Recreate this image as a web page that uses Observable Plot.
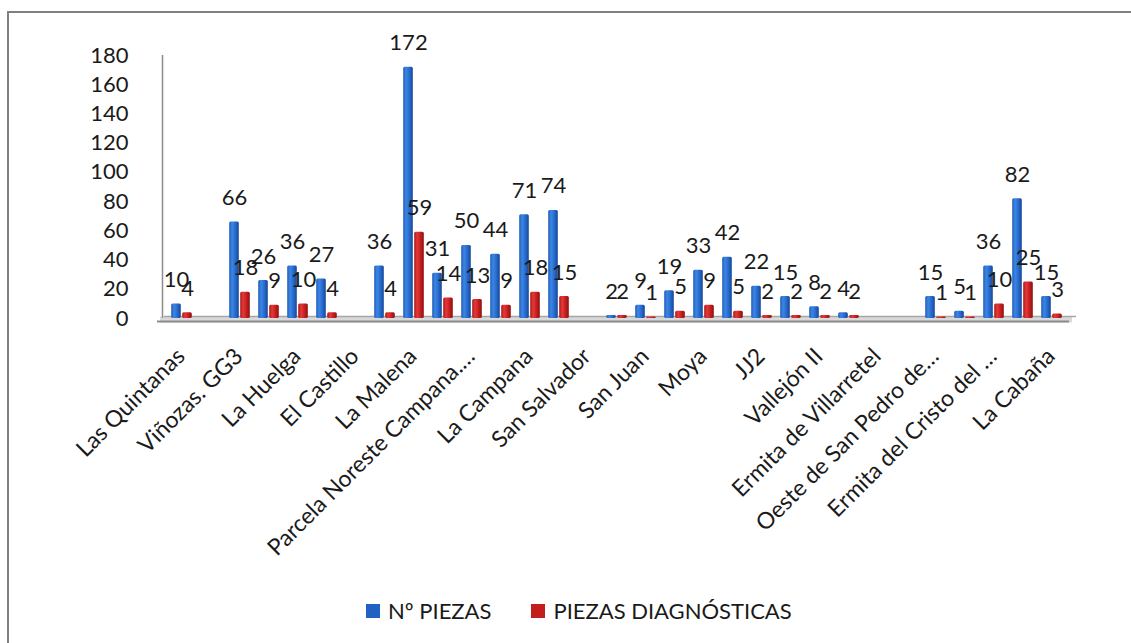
<!DOCTYPE html>
<html>
<head>
<meta charset="utf-8">
<script src="https://cdn.jsdelivr.net/npm/d3@7"></script>
<script src="https://cdn.jsdelivr.net/npm/@observablehq/plot@0.6"></script>
<style>
  html, body { margin: 0; padding: 0; background: #fff; }
  body { width: 1131px; height: 643px; position: relative; overflow: hidden; font-family: Lato, "Open Sans", sans-serif; }
  #frame { position: absolute; left: 7px; top: 11px; width: 1140px; height: 650px; border-left: 2px solid #808080; border-top: 2px solid #808080; box-sizing: border-box; pointer-events: none; }
  #chart { position: absolute; left: 0; top: 0; }
  #legend { position: absolute; left: 366px; top: 597px; display: flex; align-items: center; font-size: 22px; color: #1a1a1a; }
  .sw { width: 14px; height: 14px; display: inline-block; margin-right: 8px; }
  .item { display: flex; align-items: center; margin-right: 40px; }
</style>
</head>
<body>
<div id="chart"></div>
<div id="frame"></div>
<div id="legend"></div>
<script>
// Category labels (Excel shows every other label; hidden ones are blank)
const siteLabels = ["Las Quintanas","","Viñozas. GG3","","La Huelga","","El Castillo","","La Malena","",
  "Parcela Noreste Campana.…","","La Campana","","San Salvador","","San Juan","","Moya","",
  "JJ2","","Vallejón II","","Ermita de Villarretel","","Oeste de San Pedro de…","","Ermita del Cristo del …","","La Cabaña"];
// Series values
const piezas =       [10,null,66,26,36,27,null,36,172,31,50,44,71,74,null,2,9,19,33,42,22,15,8,4,null,null,15,5,36,82,15];
const diagnosticas = [4,null,18,9,10,4,null,4,59,14,13,9,18,15,null,2,1,5,9,5,2,2,2,2,null,null,1,1,10,25,3];
const seriesNames = ["Nº PIEZAS", "PIEZAS DIAGNÓSTICAS"];
const yTicks = [0,20,40,60,80,100,120,140,160,180];

const rows = piezas.map((v, i) => ({i, piezas: v, diag: diagnosticas[i]}));
const blueRows = rows.filter(d => d.piezas != null);
const redRows = rows.filter(d => d.diag != null);

const font = "Lato, 'Open Sans', sans-serif";
const plot = Plot.plot({
  width: 1131,
  height: 580,
  marginLeft: 160,
  marginRight: 59,
  marginTop: 55,
  marginBottom: 262,
  style: {fontFamily: font, color: "#1a1a1a", background: "transparent"},
  x: {type: "band", domain: d3.range(siteLabels.length), padding: 0, label: null},
  y: {domain: [0, 180], label: null},
  marks: [
    // floor
    Plot.ruleY([0], {stroke: "#d9d9d9", strokeWidth: 6, dy: 1}),
    Plot.ruleY([0], {stroke: "#a6a6a6", strokeWidth: 1.5, dy: -2, dx: 4}),
    Plot.ruleY([0], {stroke: "#8c8c8c", strokeWidth: 2, dy: 3, dx: -3}),
    // back wall line
    Plot.ruleX([0], {x: d => d, y1: 0, y2: 180, dx: -19.5, stroke: "#8c8c8c", strokeWidth: 1.5}),
    Plot.axisY({ticks: yTicks, tickSize: 0, tickPadding: 32, fontSize: 22, label: null}),
    Plot.axisX({tickSize: 0, tickRotate: -45, tickPadding: 34, fontSize: 23, label: null,
      tickFormat: i => siteLabels[i], dx: -1}),
    Plot.barY(blueRows, {x: "i", y: "piezas", fill: "url(#gBlue)", insetLeft: 4.2, insetRight: 15.2, rx: 1.5}),
    Plot.barY(redRows, {x: "i", y: "diag", fill: "url(#gRed)", insetLeft: 15.2, insetRight: 4.2, rx: 1.5}),
    Plot.text(blueRows, {x: "i", y: "piezas", text: "piezas", dx: -5.5, dy: -24, fontSize: 22, fill: "#1a1a1a"}),
    Plot.text(redRows, {x: "i", y: "diag", text: "diag", dx: 5.5, dy: -24, fontSize: 22, fill: "#1a1a1a"})
  ]
});

const ns = "http://www.w3.org/2000/svg";
const defs = document.createElementNS(ns, "defs");
function grad(id, stops) {
  const g = document.createElementNS(ns, "linearGradient");
  g.setAttribute("id", id);
  g.setAttribute("x1", "0"); g.setAttribute("x2", "1"); g.setAttribute("y1", "0"); g.setAttribute("y2", "0");
  for (const [o, c] of stops) {
    const s = document.createElementNS(ns, "stop");
    s.setAttribute("offset", o); s.setAttribute("stop-color", c);
    g.appendChild(s);
  }
  defs.appendChild(g);
}
grad("gBlue", [["0", "#1f5cb5"], ["0.3", "#3c86e6"], ["0.6", "#2a6fd0"], ["1", "#16479a"]]);
grad("gRed", [["0", "#a81616"], ["0.3", "#e43a3a"], ["0.6", "#cc2222"], ["1", "#8e1010"]]);
plot.insertBefore(defs, plot.firstChild);
document.getElementById("chart").appendChild(plot);

const legend = document.getElementById("legend");
const colors = ["#1f62c4", "#c41d1d"];
seriesNames.forEach((name, k) => {
  const it = document.createElement("div");
  it.className = "item";
  const sw = document.createElement("span");
  sw.className = "sw";
  sw.style.background = colors[k];
  it.appendChild(sw);
  it.appendChild(document.createTextNode(name));
  legend.appendChild(it);
});
</script>
</body>
</html>
